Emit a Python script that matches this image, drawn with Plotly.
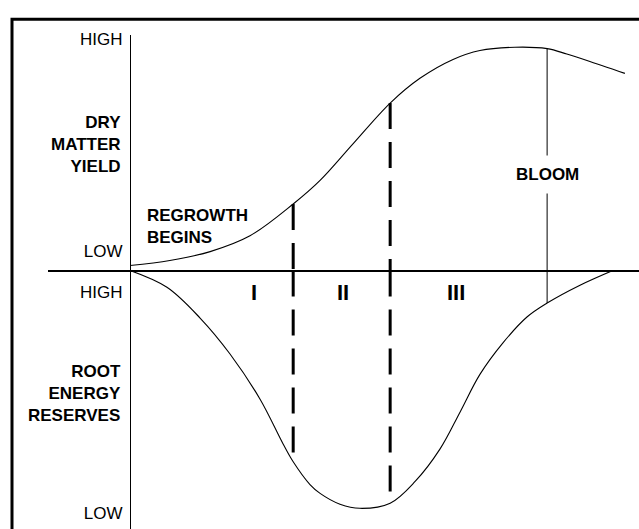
import numpy as np
import plotly.graph_objects as go

# ---- data (conceptual units: time since regrowth, relative level 0-100) ----
time_yield = [0, 8.3, 16.7, 25, 34, 39.6, 46.5, 54.2, 60.4, 67.3, 72.9, 80.2, 86.9, 91.0, 95.2, 103.1]
yield_vals = [2.1, 4.2, 8.0, 14.7, 28.2, 38.2, 53.8, 71.0, 81.5, 89.5, 93.3, 94.7, 94.1, 91.8, 89.1, 83.6]

time_root = [0, 7.7, 14.6, 20.8, 27.1, 31.9, 34, 37.5, 39.6, 43.75, 47.9,
             54.2, 59.4, 64.6, 68.75, 72.9, 77.7, 82.7, 86.9, 93.75, 100.6]
root_vals = [100, 93.5, 81.6, 67.8, 50.2, 32.9, 26.0, 17.2, 13.8, 9.6, 8.0,
             10.0, 18.4, 31.0, 45.2, 59.8, 72.0, 82.0, 87.4, 94.3, 100]

stage_bounds = [34, 54.2]
bloom_time = 86.9
stage_labels = ["I", "II", "III"]
stage_label_times = [25.8, 44.4, 67.9]
stage_label_level = 91.5

yield_ticks = [8.4, 98.3]
root_ticks = [6.1, 91.6]
tick_text = ["LOW", "HIGH"]

W, H = 639, 529
FONT = "Liberation Sans, Arial, sans-serif"

fig = go.Figure()

curve = dict(color="black", width=1.1, shape="spline", smoothing=1.0)
fig.add_trace(go.Scatter(x=time_yield, y=yield_vals, mode="lines", line=curve,
                         xaxis="x", yaxis="y", hoverinfo="skip"))
fig.add_trace(go.Scatter(x=time_root, y=root_vals, mode="lines", line=curve,
                         xaxis="x", yaxis="y2", hoverinfo="skip"))

dash = dict(color="black", width=3, dash="26px,13px")
for b in stage_bounds:
    ytop = float(np.interp(b, time_yield, yield_vals))
    yroot = float(np.interp(b, time_root, root_vals))
    fig.add_trace(go.Scatter(x=[b, b], y=[ytop, 0], mode="lines", line=dash,
                             xaxis="x", yaxis="y", hoverinfo="skip"))
    fig.add_trace(go.Scatter(x=[b, b], y=[100, yroot], mode="lines", line=dash,
                             xaxis="x", yaxis="y2", hoverinfo="skip"))

thin = dict(color="black", width=1)
yb = float(np.interp(bloom_time, time_yield, yield_vals))
rb = float(np.interp(bloom_time, time_root, root_vals))
fig.add_trace(go.Scatter(x=[bloom_time, bloom_time], y=[yb, 0], mode="lines", line=thin,
                         xaxis="x", yaxis="y", hoverinfo="skip"))
fig.add_trace(go.Scatter(x=[bloom_time, bloom_time], y=[100, rb], mode="lines", line=thin,
                         xaxis="x", yaxis="y2", hoverinfo="skip"))

annotations = []
bold = dict(family=FONT, size=17, color="black", weight="bold")
annotations.append(dict(text="BLOOM", x=bloom_time, xref="x", y=39.5, yref="y",
                        showarrow=False, font=bold, bgcolor="white", borderpad=9,
                        xanchor="center", yanchor="middle", yshift=3))
for lab, t in zip(stage_labels, stage_label_times):
    annotations.append(dict(text=lab, x=t, xref="x", y=stage_label_level, yref="y2",
                            showarrow=False, xanchor="center", yanchor="middle",
                            font=dict(family=FONT, size=22, color="black", weight="bold")))
annotations.append(dict(text="DRY<br>MATTER<br>YIELD", x=123 / W, xref="paper",
                        y=1 - 141 / H, yref="paper", showarrow=False, align="right",
                        xanchor="right", yanchor="middle", font=bold))
annotations.append(dict(text="REGROWTH<br>BEGINS", x=145 / W, xref="paper",
                        y=1 - 224 / H, yref="paper", showarrow=False, align="left",
                        xanchor="left", yanchor="middle", font=bold))
annotations.append(dict(text="ROOT<br>ENERGY<br>RESERVES", x=123 / W, xref="paper",
                        y=1 - 392 / H, yref="paper", showarrow=False, align="right",
                        xanchor="right", yanchor="middle", font=bold))

axis_common = dict(showgrid=False, zeroline=False, showline=True, linecolor="black",
                   linewidth=1, ticks="", tickfont=dict(family=FONT, size=17, color="black"),
                   anchor="free", position=130 / W, range=[0, 100], fixedrange=True,
                   ticklabelstandoff=4)

fig.update_layout(
    width=W, height=H,
    margin=dict(l=0, r=0, t=0, b=0),
    paper_bgcolor="white", plot_bgcolor="rgba(0,0,0,0)",
    showlegend=False,
    font=dict(family=FONT, color="black"),
    xaxis=dict(domain=[48 / W, 1], range=[-17.08, 106.04], showgrid=False, zeroline=False,
               showline=True, linecolor="black", linewidth=2, showticklabels=False,
               ticks="", anchor="y", side="bottom", fixedrange=True),
    yaxis=dict(domain=[1 - 268 / H, 1 - 30 / H], tickvals=yield_ticks, ticktext=tick_text,
               **axis_common),
    yaxis2=dict(domain=[0, 1 - 268 / H], tickvals=root_ticks, ticktext=tick_text,
                **axis_common),
    annotations=annotations,
    shapes=[dict(type="rect", xref="paper", yref="paper", x0=12 / W, x1=1.05,
                 y0=-0.05, y1=1 - 14.5 / H, line=dict(color="black", width=3),
                 fillcolor="rgba(0,0,0,0)")],
)

fig.write_html("out.html", config={"displayModeBar": False, "staticPlot": True},
               post_script="document.body.style.margin='0';document.body.style.padding='0';"
                           "document.body.style.overflow='hidden';")
